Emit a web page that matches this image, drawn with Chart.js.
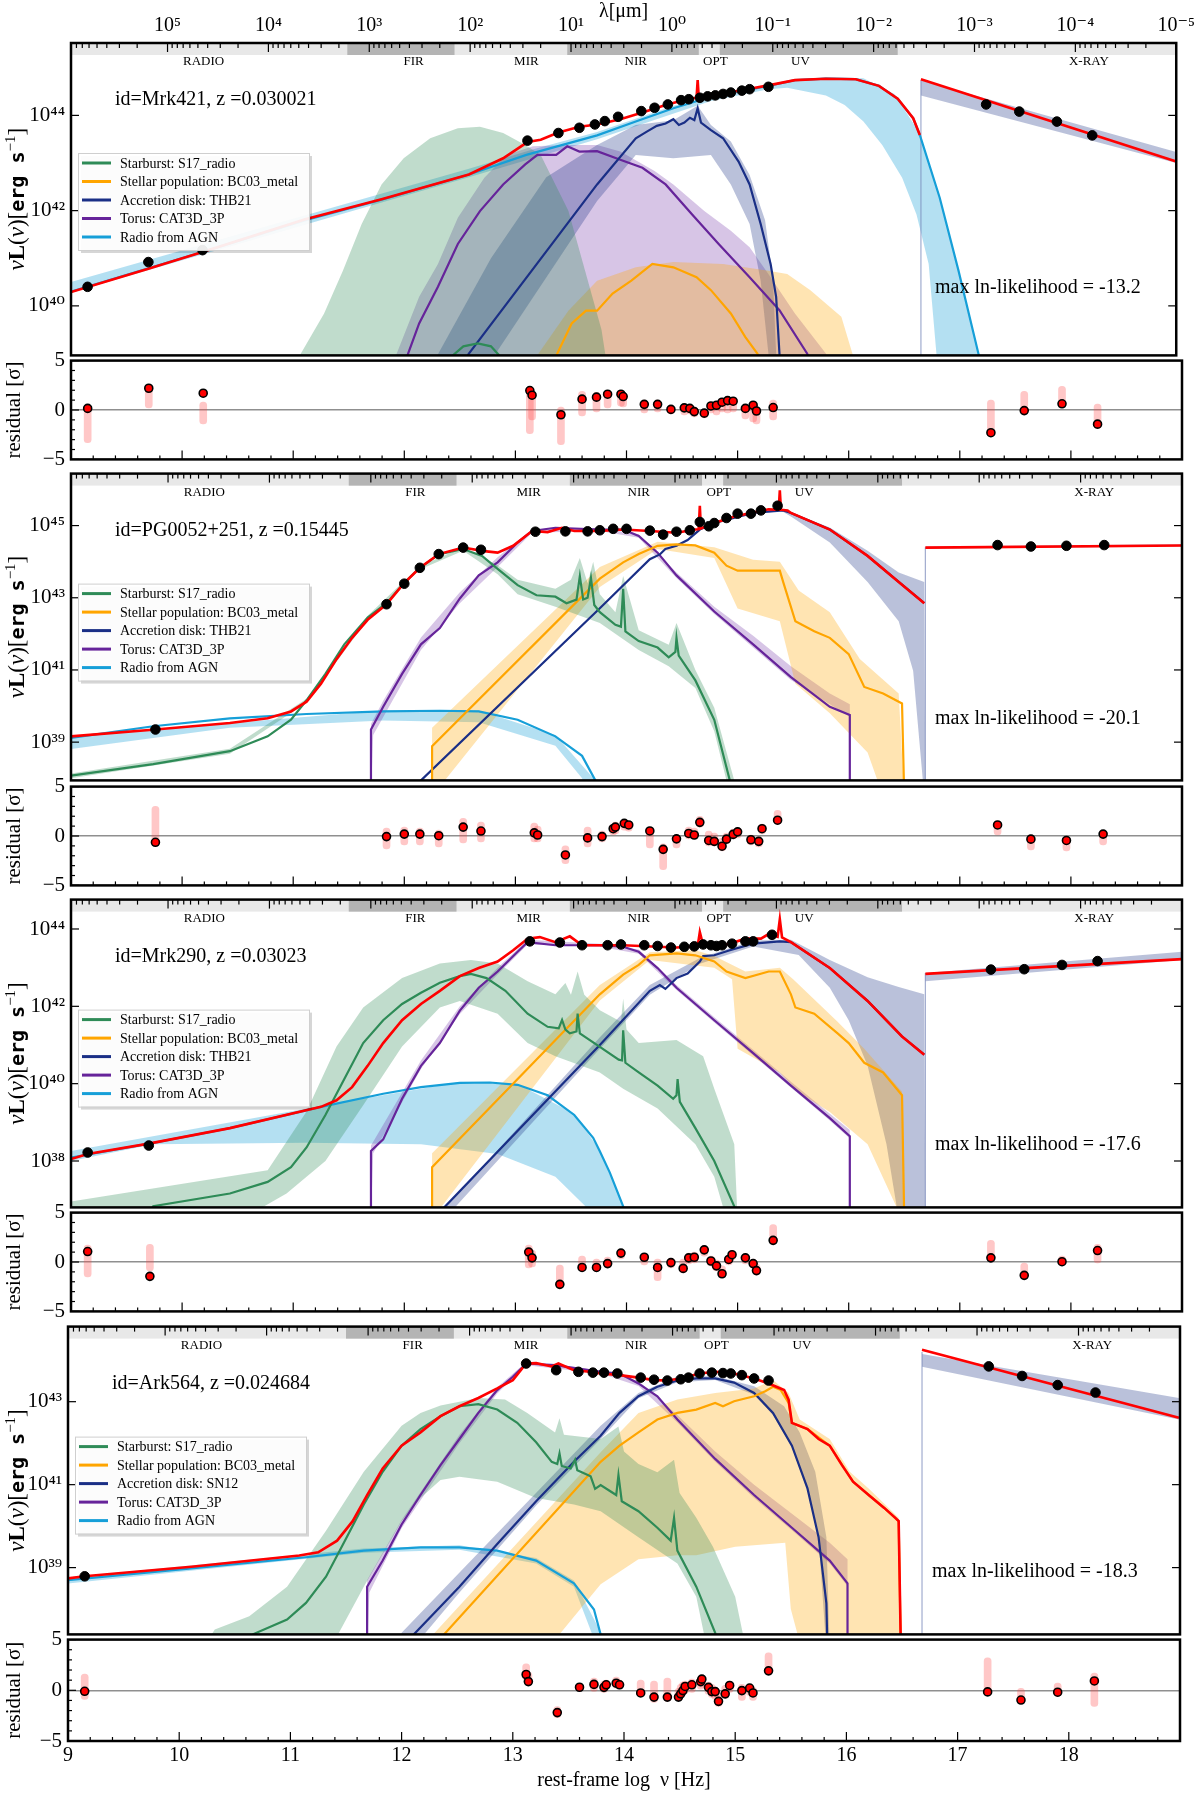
<!DOCTYPE html>
<html>
<head>
<meta charset="utf-8">
<script src="https://cdn.jsdelivr.net/npm/chart.js@4.4.1/dist/chart.umd.min.js"></script>
<style>
  body { margin: 0; background: #fff; width: 1200px; height: 1793px; position: relative; overflow: hidden; }
  canvas { position: absolute; left: 0; }
</style>
</head>
<body>
<canvas id="m0"></canvas><canvas id="r0"></canvas>
<canvas id="m1"></canvas><canvas id="r1"></canvas>
<canvas id="m2"></canvas><canvas id="r2"></canvas>
<canvas id="m3"></canvas><canvas id="r3"></canvas>
<script>
// ---- axis / label values ----
const xTicks = [9, 10, 11, 12, 13, 14, 15, 16, 17, 18];
const lamTicks = [5, 4, 3, 2, 1, 0, -1, -2, -3, -4, -5];
const yRanges = [[38.96, 45.52], [37.94, 46.44], [36.8, 44.76], [37.39, 44.81]];
const yTicks = [[40, 42, 44], [39, 41, 43, 45], [38, 40, 42, 44], [39, 41, 43]];
const darkBands = [[11.50, 12.47], [13.49, 14.68], [14.87, 16.48]];
const bandNames = ['RADIO', 'FIR', 'MIR', 'NIR', 'OPT', 'UV', 'X-RAY'];
const bandCenters = [10.2, 12.1, 13.12, 14.11, 14.83, 15.6, 18.21];
const objIds = ['id=Mrk421, z =0.030021', 'id=PG0052+251, z =0.15445', 'id=Mrk290, z =0.03023', 'id=Ark564, z =0.024684'];
const lnLikes = ['max ln-likelihood = -13.2', 'max ln-likelihood = -20.1', 'max ln-likelihood = -17.6', 'max ln-likelihood = -18.3'];
const compNames = ['Starburst: S17_radio', 'Stellar population: BC03_metal', 'Accretion disk: THB21', 'Torus: CAT3D_3P', 'Radio from AGN'];
const compNamesSN12 = ['Starburst: S17_radio', 'Stellar population: BC03_metal', 'Accretion disk: SN12', 'Torus: CAT3D_3P', 'Radio from AGN'];
// y title pieces: [text, style]
const yTitleParts = [['ν', 'italic'], ['L', 'bold'], ['(', ''], ['ν', 'italic'], [')', ''], ['[', ''], ['erg s', 'mono'], ['−1', 'sup'], [']', '']];

// ---- Mrk421 ----
const mrk421Total = [[9.0,40.29],[9.70,40.78],[10.19,41.13],[11.12,41.82],[11.81,42.24],[12.60,42.76],[12.91,43.10],[13.13,43.44],[13.25,43.49],[13.41,43.64],[13.60,43.76],[13.76,43.81],[13.97,43.92],[14.17,44.06],[14.38,44.22],[14.59,44.35],[14.66,44.37],[14.67,44.74],[14.68,44.37],[14.90,44.46],[15.14,44.56],[15.31,44.63],[15.55,44.74],[15.83,44.77],[16.10,44.76],[16.31,44.62],[16.48,44.35],[16.62,43.94],[16.68,43.59]];
const mrk421Xray = [[16.69,44.76],[19.0,43.03]];
const mrk421XrayUp = [[16.69,44.74],[19.0,43.23]];
const mrk421XrayLo = [[16.69,44.42],[19.0,43.0]];
const mrk421XrayEdge = [[16.69,44.74],[16.69,30]];
const mrk421Sb = [[12.40,38.6],[12.46,38.97],[12.55,39.15],[12.68,39.21],[12.80,39.15],[12.87,38.97],[12.93,38.6]];
const mrk421SbUp = [[10.9,38.0],[11.08,39.0],[11.29,39.84],[11.46,40.74],[11.63,41.72],[11.81,42.55],[12.01,43.10],[12.25,43.52],[12.50,43.73],[12.70,43.76],[12.91,43.63],[13.11,43.38],[13.25,43.17],[13.5,42.0],[13.8,39.5],[13.9,38.0]];
const mrk421SbLo = [[10.9,30],[13.9,30]];
const mrk421St = [[13.35,38.8],[13.40,39.0],[13.53,39.63],[13.66,39.9],[13.76,39.9],[13.90,40.26],[14.07,40.53],[14.26,40.88],[14.45,40.81],[14.66,40.6],[14.79,40.33],[14.97,39.84],[15.10,39.35],[15.21,39.0],[15.25,38.8]];
const mrk421StUp = [[13.2,38.9],[13.5,39.9],[13.76,40.53],[14.11,40.81],[14.45,40.92],[14.90,40.88],[15.31,40.74],[15.48,40.67],[15.69,40.33],[15.97,39.77],[16.07,39.0],[16.1,38.8]];
const mrk421StLo = [[13.2,30],[16.1,30]];
const mrk421Disk = [[12.55,38.8],[12.60,39.0],[13.76,42.55],[14.11,43.52],[14.21,43.66],[14.30,43.78],[14.38,43.83],[14.45,43.92],[14.50,43.80],[14.55,43.85],[14.60,43.95],[14.64,43.90],[14.67,44.15],[14.70,43.85],[14.79,43.69],[14.90,43.52],[15.04,43.03],[15.14,42.55],[15.24,41.72],[15.33,40.88],[15.38,40.19],[15.41,39.0],[15.42,38.5]];
const mrk421DiskUp = [[12.3,38.9],[12.8,41.0],[13.3,42.7],[13.76,43.38],[14.11,43.8],[14.45,43.9],[14.67,44.2],[14.79,43.8],[14.97,43.45],[15.14,42.75],[15.28,41.8],[15.35,40.6],[15.38,39.0],[15.4,38.5]];
const mrk421DiskLo = [[12.7,38.5],[13.76,42.2],[14.11,43.17],[14.45,43.1],[14.79,43.17],[14.97,42.55],[15.14,41.72],[15.24,40.53],[15.31,39.0],[15.33,38.5]];
const mrk421Torus = [[12.0,38.6],[12.05,39.0],[12.15,39.63],[12.32,40.40],[12.50,41.30],[12.70,41.99],[12.91,42.55],[13.11,42.97],[13.22,43.17],[13.39,43.17],[13.49,43.35],[13.60,43.24],[13.76,43.25],[13.97,43.07],[14.17,42.90],[14.38,42.55],[14.62,41.92],[14.86,41.30],[15.14,40.60],[15.41,39.91],[15.66,39.0],[15.7,38.8]];
const mrk421TorusUp = [[11.94,38.96],[12.15,40.19],[12.32,40.88],[12.50,41.85],[12.74,42.69],[12.94,43.17],[13.18,43.35],[13.49,43.38],[13.76,43.38],[13.97,43.24],[14.28,42.83],[14.45,42.55],[14.73,41.99],[14.97,41.58],[15.14,41.23],[15.31,40.67],[15.55,39.84],[15.83,39.0],[15.9,38.5]];
const mrk421TorusLo = [[11.9,30],[15.9,30]];
const mrk421Rad = [[9.0,40.3],[10.19,41.13],[11.12,41.8],[11.81,42.23],[12.6,42.76],[13.12,43.17],[13.76,43.58],[14.11,43.87],[14.45,44.15],[14.79,44.39],[15.31,44.62],[15.55,44.74],[15.83,44.77],[16.10,44.76],[16.31,44.62],[16.48,44.35],[16.62,43.94],[16.68,43.59],[16.86,42.27],[17.03,40.74],[17.21,39.0],[17.25,38.6]];
const mrk421RadUp = [[9.0,40.5],[12.6,42.88],[13.2,43.3],[13.76,43.65],[14.45,44.2],[15.31,44.66],[15.83,44.8],[16.17,44.78],[16.45,44.45],[16.68,43.62],[16.86,42.3],[17.03,40.77],[17.21,39.0],[17.25,38.6]];
const mrk421RadLo = [[9.0,40.28],[12.6,42.7],[13.76,43.5],[14.79,44.3],[15.31,44.55],[15.48,44.58],[15.83,44.42],[16.0,44.22],[16.17,43.87],[16.34,43.38],[16.52,42.69],[16.65,41.92],[16.76,40.88],[16.83,39.0],[16.85,38.6]];
const mrk421Data = [[9.15,40.40],[9.70,40.92],[10.19,41.17],[13.13,43.47],[13.41,43.63],[13.60,43.74],[13.74,43.81],[13.83,43.88],[13.95,43.97],[14.16,44.09],[14.28,44.16],[14.40,44.23],[14.52,44.32],[14.59,44.34],[14.69,44.37],[14.76,44.40],[14.83,44.42],[14.90,44.45],[14.97,44.48],[15.07,44.52],[15.14,44.55],[15.31,44.60],[17.28,44.23],[17.58,44.08],[17.92,43.87],[18.24,43.58]];
// residual rows: [log nu, best, spread low, spread high]
const mrk421Resid = [[9.15,0.16,-3.3,0.2],[9.70,2.2,0.2,2.2],[10.19,1.7,-1.4,0.8],[13.13,1.97,-2.4,2.0],[13.15,1.5,-1.0,1.5],[13.41,-0.48,-3.5,0.3],[13.60,1.1,-0.6,1.9],[13.73,1.3,-0.2,1.8],[13.83,1.6,0.2,1.9],[13.95,1.6,0.4,1.9],[13.97,1.36,0.3,1.6],[14.16,0.57,-0.3,1.0],[14.28,0.57,-0.2,1.0],[14.40,0.06,-0.4,0.4],[14.52,0.22,-0.5,0.6],[14.57,0.16,-0.4,0.5],[14.61,-0.16,-0.7,0.3],[14.70,-0.32,-0.8,0.1],[14.76,0.41,-0.3,0.8],[14.81,0.48,-0.5,0.8],[14.86,0.79,-0.2,1.0],[14.91,0.95,-0.3,1.1],[14.96,0.89,-0.2,1.0],[15.07,0.16,-0.9,0.3],[15.14,0.48,-1.2,0.6],[15.17,-0.1,-1.4,0.2],[15.32,0.25,-1.0,1.0],[17.28,-2.3,-2.4,1.0],[17.58,-0.06,0,1.9],[17.92,0.63,0.6,2.4],[18.24,-1.43,-1.9,0.6]];

// ---- PG0052+251 ----
const pg0052Total = [[9.0,39.16],[9.76,39.35],[10.43,39.53],[10.77,39.66],[10.98,39.85],[11.12,40.12],[11.25,40.62],[11.39,41.30],[11.53,41.89],[11.67,42.39],[11.84,42.82],[11.99,43.38],[12.14,43.83],[12.31,44.21],[12.53,44.39],[12.70,44.30],[12.84,44.25],[12.98,44.44],[13.15,44.85],[13.29,44.82],[13.42,44.94],[13.53,44.85],[13.76,44.85],[13.97,44.89],[14.21,44.85],[14.45,44.80],[14.62,44.89],[14.65,44.9],[14.66,45.55],[14.67,44.92],[14.79,45.07],[14.97,45.25],[15.14,45.36],[15.28,45.45],[15.37,45.44],[15.38,45.98],[15.39,45.44],[15.45,45.42],[15.48,45.35],[15.83,44.89],[16.17,44.16],[16.45,43.44],[16.68,42.85]];
const pg0052Xray = [[16.69,44.39],[19.0,44.45]];
const pg0052XrayUp = [[16.69,44.42],[19.0,44.48]];
const pg0052XrayLo = [[16.69,44.36],[19.0,44.42]];
const pg0052XrayEdge = [[16.69,44.4],[16.69,30]];
const pg0052Sb = [[9.0,38.07],[9.74,38.39],[10.43,38.75],[10.77,39.16],[10.98,39.62],[11.12,40.16],[11.29,40.89],[11.46,41.71],[11.67,42.45],[11.84,42.85],[11.99,43.38],[12.14,43.83],[12.31,44.2],[12.53,44.35],[12.70,44.16],[12.84,43.80],[13.02,43.35],[13.19,43.07],[13.36,43.03],[13.46,42.85],[13.55,42.95],[13.58,43.6],[13.61,42.95],[13.65,43.0],[13.68,43.55],[13.71,42.8],[13.76,42.6],[13.90,42.25],[13.95,42.2],[13.97,43.25],[13.99,42.07],[14.11,41.80],[14.28,41.62],[14.38,41.35],[14.44,41.5],[14.45,41.89],[14.47,41.4],[14.62,40.71],[14.79,39.62],[14.93,37.94],[14.95,37.5]];
const pg0052SbUp = [[9.0,38.13],[10.43,38.82],[11.12,40.2],[11.67,42.5],[12.14,43.88],[12.53,44.4],[12.84,43.9],[13.02,43.5],[13.36,43.25],[13.5,43.5],[13.58,44.1],[13.65,43.4],[13.70,44.0],[13.76,43.1],[13.9,42.6],[13.97,43.6],[14.11,42.1],[14.38,41.7],[14.45,42.3],[14.62,41.0],[14.79,39.95],[14.97,37.94],[15.0,37.5]];
const pg0052SbLo = [[9.0,38.0],[10.43,38.68],[11.12,40.1],[11.67,42.4],[12.14,43.78],[12.53,44.3],[12.84,43.65],[13.02,43.1],[13.36,42.75],[13.76,42.3],[14.11,41.55],[14.38,41.1],[14.62,40.5],[14.79,39.3],[14.9,37.94],[14.92,37.5]];
const pg0052St = [[12.25,37.5],[12.25,38.89],[13.76,43.53],[13.97,43.98],[14.11,44.21],[14.28,44.44],[14.45,44.48],[14.62,44.45],[14.79,44.25],[14.90,43.89],[15.0,43.75],[15.14,43.75],[15.38,43.75],[15.41,43.44],[15.52,42.35],[15.69,42.07],[15.83,41.89],[16.0,41.44],[16.14,40.53],[16.31,40.35],[16.48,40.07],[16.50,37.5]];
const pg0052StUp = [[12.25,37.5],[12.25,39.4],[13.76,43.85],[14.28,44.55],[14.79,44.4],[15.14,44.05],[15.38,44.0],[15.55,43.2],[15.83,42.6],[16.1,41.3],[16.45,40.35],[16.5,37.5]];
const pg0052StLo = [[12.25,37.5],[13.76,43.3],[14.28,44.35],[14.79,44.1],[15.0,42.7],[15.38,42.35],[15.52,40.62],[15.83,39.8],[16.17,38.71],[16.31,37.5]];
const pg0052Disk = [[12.10,37.5],[12.15,37.94],[13.76,42.71],[14.21,44.07],[14.30,44.2],[14.35,44.35],[14.45,44.44],[14.55,44.6],[14.66,44.89],[14.79,45.07],[15.14,45.35],[15.41,45.42],[15.48,45.35],[15.83,44.89],[16.17,44.16],[16.45,43.44],[16.68,42.85]];
const pg0052DiskUp = [[15.4,45.45],[15.48,45.37],[15.83,44.95],[16.17,44.3],[16.45,43.7],[16.68,43.44],[16.69,37.5]];
const pg0052DiskLo = [[15.4,45.4],[15.48,45.25],[15.83,44.53],[16.17,43.44],[16.45,42.35],[16.58,40.98],[16.68,37.5]];
const pg0052Torus = [[11.70,37.5],[11.70,39.35],[11.81,39.98],[11.98,40.89],[12.15,41.71],[12.32,42.16],[12.50,42.98],[12.67,43.62],[12.84,43.98],[13.02,44.53],[13.15,44.85],[13.36,44.94],[13.76,44.89],[13.97,44.89],[14.11,44.71],[14.28,44.25],[14.45,43.62],[14.79,42.62],[15.14,41.71],[15.48,40.80],[15.83,39.98],[16.01,39.75],[16.01,37.5]];
const pg0052TorusUp = [[11.70,37.5],[11.70,39.5],[11.81,40.15],[12.15,41.9],[12.50,43.15],[12.84,44.12],[13.15,44.9],[13.76,44.93],[14.11,44.76],[14.45,43.7],[14.79,42.75],[15.14,41.95],[15.48,41.1],[15.83,40.35],[16.01,40.05],[16.01,37.5]];
const pg0052TorusLo = [[11.70,37.5],[11.72,39.2],[12.15,41.55],[12.50,42.85],[12.84,43.85],[13.15,44.8],[13.76,44.85],[14.11,44.66],[14.45,43.55],[14.79,42.55],[15.14,41.62],[15.48,40.72],[16.01,39.7],[16.01,37.5]];
const pg0052Rad = [[9.0,39.12],[9.74,39.44],[10.43,39.66],[11.12,39.78],[11.81,39.85],[12.32,39.87],[12.67,39.85],[13.02,39.62],[13.36,39.16],[13.6,38.62],[13.72,37.94],[13.75,37.5]];
const pg0052RadUp = [[9.0,39.16],[11.81,39.88],[12.67,39.88],[13.36,39.2],[13.72,37.94],[13.75,37.5]];
const pg0052RadLo = [[9.0,38.81],[10.43,39.4],[11.81,39.6],[12.67,39.55],[13.36,38.9],[13.6,38.0],[13.65,37.5]];
const pg0052Data = [[9.76,39.35],[11.84,42.82],[12.0,43.39],[12.14,43.83],[12.31,44.21],[12.53,44.39],[12.69,44.33],[13.18,44.83],[13.45,44.84],[13.65,44.84],[13.76,44.87],[13.88,44.91],[14.0,44.91],[14.21,44.86],[14.33,44.75],[14.45,44.83],[14.57,44.87],[14.66,45.10],[14.74,44.98],[14.79,45.07],[14.90,45.21],[15.0,45.33],[15.12,45.33],[15.21,45.42],[15.36,45.55],[17.34,44.46],[17.64,44.42],[17.96,44.44],[18.30,44.46]];
const pg0052Resid = [[9.76,-0.64,-0.6,3.0],[11.84,-0.06,-1.3,0.8],[12.0,0.19,-0.9,0.9],[12.14,0.19,-0.9,0.8],[12.31,0.03,-1.1,0.6],[12.53,0.9,-0.7,1.8],[12.69,0.5,-0.6,1.4],[13.17,0.32,-0.6,1.3],[13.2,0.1,-0.6,1.0],[13.45,-1.92,-2.8,-1.0],[13.65,-0.19,-1.1,0.9],[13.78,-0.06,-0.6,0.5],[13.88,0.74,0.1,1.2],[13.90,0.9,0.2,1.4],[13.98,1.28,0.6,1.6],[14.02,1.12,0.5,1.4],[14.21,0.51,-1.2,0.9],[14.33,-1.35,-3.4,-0.8],[14.45,-0.29,-1.2,0.0],[14.56,0.26,-0.3,0.9],[14.61,0.1,-0.3,0.8],[14.66,1.38,0.9,2.0],[14.74,-0.45,-1.0,0.5],[14.79,-0.54,-1.0,0.3],[14.86,-1.03,-1.5,-0.2],[14.90,-0.32,-0.8,0.3],[14.96,0.16,-0.3,0.7],[15.0,0.42,-0.2,0.8],[15.12,-0.38,-0.9,0.1],[15.19,-0.54,-1.1,0.0],[15.22,0.74,0.2,1.2],[15.36,1.6,1.2,2.6],[17.34,1.12,0.1,1.5],[17.64,-0.32,-1.4,0.1],[17.96,-0.45,-1.5,0.0],[18.29,0.19,-0.9,0.4]];

// ---- Mrk290 ----
const mrk290Total = [[9.0,38.05],[9.15,38.18],[9.70,38.45],[10.43,38.85],[11.25,39.40],[11.39,39.57],[11.53,39.91],[11.67,40.46],[11.81,41.05],[11.98,41.64],[12.15,42.06],[12.32,42.40],[12.50,42.78],[12.67,42.99],[12.84,43.16],[12.98,43.45],[13.11,43.75],[13.22,43.79],[13.36,43.66],[13.49,43.81],[13.60,43.58],[13.76,43.58],[13.97,43.58],[14.28,43.54],[14.45,43.52],[14.64,43.55],[14.66,43.92],[14.69,43.58],[14.79,43.54],[14.93,43.62],[15.07,43.75],[15.21,43.75],[15.28,43.87],[15.36,43.8],[15.38,44.25],[15.40,43.78],[15.48,43.66],[15.83,42.99],[16.17,42.14],[16.48,41.22],[16.68,40.75]];
const mrk290Xray = [[16.69,42.84],[19.0,43.22]];
const mrk290XrayUp = [[16.69,42.86],[19.0,43.41]];
const mrk290XrayLo = [[16.69,42.65],[19.0,43.2]];
const mrk290XrayEdge = [[16.69,42.86],[16.69,30]];
const mrk290Sb = [[9.7,36.6],[9.74,36.83],[10.43,37.16],[10.77,37.46],[10.98,37.84],[11.12,38.35],[11.29,39.19],[11.46,40.12],[11.63,41.05],[11.81,41.64],[11.98,42.06],[12.15,42.35],[12.32,42.61],[12.50,42.78],[12.60,42.84],[12.74,42.73],[12.91,42.40],[13.11,41.81],[13.29,41.47],[13.39,41.43],[13.42,41.65],[13.45,41.4],[13.49,41.30],[13.55,41.35],[13.56,41.81],[13.58,41.3],[13.76,40.95],[13.93,40.62],[13.96,40.6],[13.97,41.38],[13.99,40.54],[14.11,40.29],[14.28,39.95],[14.42,39.61],[14.45,39.7],[14.46,40.12],[14.48,39.53],[14.62,38.85],[14.79,38.0],[14.97,36.83],[15.0,36.5]];
const mrk290SbUp = [[9.0,36.95],[10.77,37.76],[11.12,39.28],[11.39,40.96],[11.63,41.97],[11.98,42.73],[12.32,43.11],[12.60,43.2],[12.84,43.11],[13.11,42.65],[13.36,42.31],[13.45,42.6],[13.5,42.3],[13.56,42.9],[13.62,42.3],[13.76,41.9],[13.95,41.6],[13.97,42.2],[14.0,41.4],[14.11,41.05],[14.45,41.13],[14.69,40.71],[14.79,39.87],[14.97,38.43],[15.0,36.5]];
const mrk290SbLo = [[9.0,36.5],[10.6,36.6],[10.94,37.16],[11.29,38.0],[11.63,39.44],[11.98,40.96],[12.32,41.97],[12.5,42.14],[12.84,41.81],[13.11,41.05],[13.36,40.71],[13.76,40.29],[13.97,39.87],[14.28,39.36],[14.62,38.43],[14.79,37.59],[14.90,36.5]];
const mrk290St = [[12.25,36.5],[12.25,37.84],[13.76,42.31],[13.97,42.82],[14.11,43.07],[14.21,43.32],[14.45,43.37],[14.62,43.32],[14.79,43.16],[14.90,42.90],[15.07,42.73],[15.28,42.90],[15.38,42.90],[15.48,42.31],[15.52,41.97],[15.69,41.81],[15.9,41.30],[16.0,41.05],[16.14,40.54],[16.31,40.29],[16.48,39.70],[16.50,36.5]];
const mrk290StUp = [[12.25,36.5],[12.25,38.2],[13.76,42.55],[14.21,43.4],[14.62,43.45],[14.79,43.3],[15.07,42.9],[15.38,43.0],[15.5,42.7],[15.9,41.6],[16.14,40.9],[16.48,39.8],[16.5,36.5]];
const mrk290StLo = [[12.25,36.5],[13.76,42.15],[14.21,43.2],[14.79,43.0],[14.95,42.7],[15.0,40.9],[15.38,40.29],[15.55,39.78],[15.83,39.27],[16.17,38.43],[16.48,36.5]];
const mrk290Disk = [[12.33,36.5],[12.36,36.8],[13.76,41.0],[14.21,42.4],[14.30,42.55],[14.35,42.45],[14.45,42.73],[14.55,42.85],[14.66,43.16],[14.69,43.3],[14.79,43.32],[14.93,43.45],[15.14,43.62],[15.38,43.68],[15.48,43.66],[15.83,42.99],[16.17,42.14],[16.48,41.22],[16.68,40.75]];
const mrk290DiskUp = [[12.28,36.5],[13.76,41.2],[14.21,42.55],[14.66,43.25],[15.14,43.7],[15.48,43.72],[15.83,43.2],[16.17,42.75],[16.45,42.5],[16.68,42.31],[16.69,36.5]];
const mrk290DiskLo = [[12.36,36.5],[13.76,40.9],[14.21,42.3],[14.66,43.1],[15.14,43.55],[15.55,43.33],[15.83,42.48],[16.0,41.64],[16.17,40.46],[16.34,38.43],[16.45,36.5]];
const mrk290Torus = [[11.70,36.5],[11.70,38.26],[11.81,38.56],[11.98,39.61],[12.15,40.46],[12.32,41.05],[12.50,41.89],[12.67,42.48],[12.84,42.90],[13.02,43.41],[13.11,43.66],[13.36,43.58],[13.76,43.58],[13.97,43.54],[14.11,43.41],[14.28,42.99],[14.45,42.48],[14.79,41.64],[15.14,40.79],[15.48,39.95],[15.83,39.11],[16.01,38.64],[16.01,36.5]];
const mrk290TorusUp = [[11.70,36.5],[11.70,38.4],[12.15,40.6],[12.50,42.0],[12.84,43.0],[13.11,43.72],[13.76,43.62],[14.11,43.47],[14.45,42.55],[14.79,41.72],[15.14,40.88],[15.48,40.05],[15.83,39.22],[16.01,38.8],[16.01,36.5]];
const mrk290TorusLo = [[11.70,36.5],[11.72,38.2],[12.15,40.38],[12.50,41.8],[12.84,42.82],[13.11,43.6],[13.76,43.54],[14.11,43.36],[14.45,42.42],[14.79,41.58],[15.14,40.73],[15.48,39.9],[15.83,39.05],[16.01,38.58],[16.01,36.5]];
const mrk290Rad = [[9.0,38.09],[9.74,38.47],[10.43,38.85],[11.25,39.40],[11.81,39.74],[12.15,39.91],[12.50,40.02],[12.77,40.03],[13.02,39.97],[13.29,39.70],[13.53,39.19],[13.70,38.6],[13.76,38.25],[13.85,37.7],[13.97,36.83],[14.0,36.5]];
const mrk290RadUp = [[9.0,38.26],[11.25,39.42],[12.5,40.04],[13.02,39.99],[13.53,39.22],[13.76,38.27],[13.97,36.83],[14.0,36.5]];
const mrk290RadLo = [[9.0,38.0],[9.74,38.43],[11.12,38.47],[12.15,38.43],[12.84,38.18],[13.36,37.59],[13.63,36.83],[13.65,36.5]];
const mrk290Data = [[9.15,38.22],[9.70,38.40],[13.13,43.68],[13.40,43.65],[13.60,43.58],[13.83,43.58],[13.95,43.60],[14.16,43.58],[14.28,43.56],[14.40,43.52],[14.52,43.54],[14.61,43.55],[14.69,43.60],[14.76,43.58],[14.81,43.56],[14.86,43.58],[14.95,43.62],[15.07,43.68],[15.14,43.68],[15.31,43.85],[17.28,42.95],[17.58,42.96],[17.92,43.07],[18.24,43.17]];
const mrk290Resid = [[9.15,1.06,-1.5,1.7],[9.71,-1.45,-0.9,1.8],[13.12,1.0,-0.6,1.7],[13.15,0.42,-0.5,1.2],[13.40,-2.26,-2.6,-0.3],[13.60,-0.55,-0.8,0.6],[13.73,-0.55,-0.8,0.3],[13.83,-0.16,-0.6,0.5],[13.95,0.9,0.3,1.2],[14.16,0.48,-0.3,0.8],[14.28,-0.55,-1.9,0.3],[14.40,-0.06,-0.6,0.4],[14.51,-0.65,-1.1,0.3],[14.56,0.42,-0.2,0.9],[14.61,0.48,-0.1,1.0],[14.70,1.23,0.6,1.5],[14.76,0.1,-0.4,0.6],[14.81,-0.39,-0.9,0.2],[14.86,-1.19,-1.5,-0.4],[14.92,0.26,-0.3,0.7],[14.95,0.74,0.2,1.0],[15.07,0.42,-0.2,0.7],[15.14,-0.16,-0.6,0.3],[15.17,-0.87,-1.3,-0.2],[15.32,2.19,2.2,3.8],[17.28,0.42,0.3,2.2],[17.58,-1.35,-1.6,-0.1],[17.92,0.03,-0.3,0.6],[18.24,1.16,-0.1,1.8]];

// ---- Ark564 ----
const ark564Total = [[9.0,38.74],[9.15,38.79],[10.11,39.02],[11.08,39.29],[11.25,39.37],[11.42,39.65],[11.56,40.12],[11.69,40.75],[11.83,41.39],[12.0,41.94],[12.17,42.26],[12.35,42.65],[12.52,42.89],[12.69,43.09],[12.86,43.32],[13.0,43.52],[13.12,43.92],[13.21,43.93],[13.35,43.85],[13.41,43.92],[13.55,43.76],[13.69,43.72],[13.79,43.68],[13.96,43.64],[14.13,43.58],[14.27,43.52],[14.39,43.51],[14.51,43.56],[14.68,43.68],[14.82,43.72],[14.99,43.68],[15.17,43.56],[15.30,43.44],[15.37,43.36],[15.44,43.28],[15.48,43.05],[15.51,42.49],[15.65,42.34],[15.75,42.10],[15.85,41.94],[15.96,41.47],[16.06,41.07],[16.2,40.75],[16.34,40.44],[16.44,40.20],[16.47,40.12],[16.49,37.0]];
const ark564Xray = [[16.68,44.25],[18.99,42.61]];
const ark564XrayUp = [[16.68,44.15],[18.99,43.09]];
const ark564XrayLo = [[16.68,43.84],[18.99,42.57]];
const ark564XrayEdge = [[16.68,44.2],[16.68,30]];
const ark564Sb = [[10.66,37.39],[10.97,37.75],[11.14,38.15],[11.32,38.78],[11.49,39.65],[11.66,40.52],[11.83,41.31],[12.0,41.94],[12.17,42.34],[12.35,42.65],[12.52,42.89],[12.69,42.94],[12.86,42.81],[13.04,42.49],[13.21,42.02],[13.35,41.55],[13.4,41.5],[13.42,41.75],[13.44,41.45],[13.52,41.39],[13.56,41.6],[13.58,41.35],[13.7,41.2],[13.74,40.9],[13.79,40.99],[13.93,40.75],[13.95,41.23],[13.98,40.6],[14.13,40.36],[14.30,39.96],[14.42,39.65],[14.45,40.2],[14.48,39.41],[14.65,38.54],[14.82,37.43],[14.85,37.0]];
const ark564SbUp = [[10.2,37.0],[10.32,37.51],[10.63,37.83],[10.97,38.54],[11.32,39.89],[11.66,41.31],[12.0,42.42],[12.17,42.73],[12.35,42.91],[12.69,43.09],[12.93,43.05],[13.13,42.73],[13.38,42.26],[13.42,42.6],[13.46,42.2],[13.79,42.1],[13.95,42.4],[14.0,41.8],[14.13,41.5],[14.3,41.3],[14.45,41.6],[14.5,40.8],[14.65,40.2],[14.8,39.5],[15.0,38.3],[15.1,37.0]];
const ark564SbLo = [[11.35,37.0],[11.66,38.54],[12.0,40.12],[12.17,40.68],[12.35,41.11],[12.52,41.19],[12.86,41.07],[13.21,40.68],[13.55,40.52],[13.79,40.36],[14.13,39.73],[14.48,39.1],[14.65,38.3],[14.75,37.0]];
const ark564St = [[12.25,37.0],[13.79,41.55],[13.96,41.94],[14.13,42.26],[14.30,42.57],[14.48,42.73],[14.65,42.81],[14.82,42.97],[14.89,42.89],[14.99,43.01],[15.17,43.13],[15.27,43.25],[15.34,43.36],[15.41,43.28],[15.48,42.97],[15.51,42.49],[15.65,42.34],[15.85,41.94],[16.06,41.07],[16.34,40.44],[16.47,40.12],[16.49,37.0]];
const ark564StUp = [[12.15,37.0],[13.79,41.78],[14.13,42.73],[14.48,43.05],[14.82,43.21],[15.17,43.32],[15.34,43.52],[15.48,43.21],[15.58,42.57],[15.85,42.10],[16.03,41.31],[16.2,40.91],[16.47,40.2],[16.5,37.0]];
const ark564StLo = [[13.3,37.0],[13.79,38.6],[14.13,39.2],[14.48,39.3],[14.65,39.3],[15.0,39.5],[15.45,39.6],[15.5,38.0],[15.6,37.0]];
const ark564Disk = [[12.05,37.0],[12.11,37.39],[12.52,38.54],[12.86,39.57],[13.21,40.6],[13.55,41.55],[13.79,42.18],[13.96,42.73],[14.13,43.13],[14.30,43.36],[14.48,43.51],[14.65,43.56],[14.82,43.56],[14.99,43.46],[15.17,43.21],[15.34,42.73],[15.51,41.94],[15.65,40.91],[15.75,39.73],[15.82,38.14],[15.83,37.0]];
const ark564DiskUp = [[11.98,37.0],[12.0,37.43],[13.79,42.42],[14.13,43.21],[14.48,43.6],[14.82,43.62],[15.17,43.37],[15.44,42.89],[15.58,42.26],[15.72,41.31],[15.82,39.73],[15.85,37.0]];
const ark564DiskLo = [[12.08,37.0],[12.52,38.4],[13.21,40.5],[13.79,42.1],[14.13,43.08],[14.48,43.47],[14.82,43.52],[15.17,43.17],[15.34,42.68],[15.51,41.9],[15.65,40.85],[15.75,39.7],[15.82,37.0]];
const ark564Torus = [[11.69,37.0],[11.69,38.54],[11.83,39.17],[12.0,40.04],[12.17,40.75],[12.35,41.47],[12.52,42.10],[12.69,42.73],[12.86,43.28],[13.0,43.6],[13.12,43.92],[13.38,43.88],[13.79,43.72],[13.96,43.68],[14.13,43.44],[14.30,43.13],[14.48,42.57],[14.82,41.62],[15.17,40.75],[15.51,39.96],[15.85,39.17],[16.01,38.62],[16.01,37.0]];
const ark564TorusUp = [[11.69,37.0],[11.69,38.7],[12.0,40.15],[12.52,42.2],[12.86,43.35],[13.12,43.95],[13.79,43.76],[14.13,43.5],[14.48,42.68],[14.82,41.8],[15.17,41.0],[15.51,40.3],[15.85,39.6],[16.01,39.2],[16.01,37.0]];
const ark564TorusLo = [[11.69,37.0],[11.71,38.4],[12.0,39.95],[12.52,42.0],[12.86,43.2],[13.12,43.88],[13.79,43.68],[14.13,43.38],[14.48,42.5],[14.82,41.55],[15.17,40.68],[15.51,39.9],[15.85,39.1],[16.01,38.55],[16.01,37.0]];
const ark564Rad = [[9.0,38.7],[10.11,38.98],[11.14,39.25],[11.66,39.41],[12.17,39.49],[12.52,39.49],[12.86,39.41],[13.21,39.17],[13.55,38.62],[13.73,37.99],[13.79,37.39],[13.8,37.0]];
const ark564RadUp = [[9.0,38.76],[11.66,39.46],[12.52,39.54],[13.21,39.23],[13.55,38.69],[13.79,37.45],[13.81,37.0]];
const ark564RadLo = [[9.0,38.62],[11.66,39.36],[12.52,39.43],[13.21,39.1],[13.55,38.54],[13.77,37.0]];
const ark564Data = [[9.15,38.79],[13.12,43.92],[13.39,43.76],[13.59,43.72],[13.72,43.70],[13.82,43.70],[13.94,43.68],[14.15,43.58],[14.27,43.53],[14.39,43.51],[14.51,43.54],[14.58,43.58],[14.68,43.68],[14.79,43.70],[14.89,43.69],[14.96,43.68],[15.06,43.64],[15.17,43.56],[15.30,43.51],[17.28,43.85],[17.58,43.62],[17.90,43.40],[18.24,43.22]];
const ark564Resid = [[9.15,-0.1,-0.9,1.6],[13.12,1.56,1.0,2.6],[13.14,0.86,0.6,1.8],[13.40,-2.2,-2.7,-1.6],[13.60,0.3,-0.1,0.5],[13.73,0.58,-0.1,1.2],[13.82,0.29,-0.2,0.9],[13.84,0.54,0.0,1.0],[13.93,0.7,0.2,1.3],[13.96,0.54,0.1,1.0],[14.15,-0.26,-0.6,1.0],[14.27,-0.67,-1.2,0.9],[14.39,-0.67,-1.1,1.2],[14.49,-0.67,-1.0,0.2],[14.51,-0.35,-0.8,0.6],[14.53,-0.03,-0.5,0.8],[14.55,0.38,-0.3,0.9],[14.61,0.54,-0.2,1.1],[14.69,0.86,0.1,1.3],[14.70,1.1,0.3,1.5],[14.76,0.29,-0.4,0.8],[14.79,-0.13,-0.7,0.6],[14.82,-0.13,-0.9,0.3],[14.85,-1.09,-1.6,-0.3],[14.91,-0.35,-0.8,0.5],[14.95,0.48,-0.2,0.9],[15.06,-0.03,-1.0,0.6],[15.13,0.22,-0.5,0.6],[15.16,-0.26,-1.0,0.3],[15.30,1.92,1.6,3.7],[17.27,-0.16,-0.3,3.2],[17.57,-0.96,-1.3,0.2],[17.90,-0.19,-0.6,0.7],[18.23,0.92,-1.6,1.7]];

// ---- styling / layout ----
const FONT = "'Liberation Serif', 'DejaVu Serif', serif";
const MONO = "'DejaVu Sans Mono', 'Liberation Mono', monospace";
const compColors = ['#2e8b57', '#ffa500', '#1a2f86', '#66249a', '#169fd8'];
const bandColors = ['rgba(46,139,87,0.3)', 'rgba(255,165,0,0.3)', 'rgba(40,62,140,0.32)', 'rgba(110,45,165,0.28)', 'rgba(22,159,216,0.32)'];
const xrayBand = 'rgba(40,62,140,0.32)';
const layout = [
  { main: [43, 358], res: [358, 462], left: 71, right: 1182 },
  { main: [471, 783], res: [784, 888], left: 71, right: 1182 },
  { main: [897, 1210], res: [1210, 1314], left: 71, right: 1182 },
  { main: [1324, 1637], res: [1637, 1741], left: 68, right: 1180 }
];

const panels = [
  { total: mrk421Total, xray: mrk421Xray, xrayUp: mrk421XrayUp, xrayLo: mrk421XrayLo, xrayEdge: mrk421XrayEdge,
    comps: [[mrk421Sb, mrk421SbUp, mrk421SbLo], [mrk421St, mrk421StUp, mrk421StLo], [mrk421Disk, mrk421DiskUp, mrk421DiskLo], [mrk421Torus, mrk421TorusUp, mrk421TorusLo], [mrk421Rad, mrk421RadUp, mrk421RadLo]],
    data: mrk421Data, resid: mrk421Resid, names: compNames },
  { total: pg0052Total, xray: pg0052Xray, xrayUp: pg0052XrayUp, xrayLo: pg0052XrayLo, xrayEdge: pg0052XrayEdge,
    comps: [[pg0052Sb, pg0052SbUp, pg0052SbLo], [pg0052St, pg0052StUp, pg0052StLo], [pg0052Disk, pg0052DiskUp, pg0052DiskLo], [pg0052Torus, pg0052TorusUp, pg0052TorusLo], [pg0052Rad, pg0052RadUp, pg0052RadLo]],
    data: pg0052Data, resid: pg0052Resid, names: compNames },
  { total: mrk290Total, xray: mrk290Xray, xrayUp: mrk290XrayUp, xrayLo: mrk290XrayLo, xrayEdge: mrk290XrayEdge,
    comps: [[mrk290Sb, mrk290SbUp, mrk290SbLo], [mrk290St, mrk290StUp, mrk290StLo], [mrk290Disk, mrk290DiskUp, mrk290DiskLo], [mrk290Torus, mrk290TorusUp, mrk290TorusLo], [mrk290Rad, mrk290RadUp, mrk290RadLo]],
    data: mrk290Data, resid: mrk290Resid, names: compNames },
  { total: ark564Total, xray: ark564Xray, xrayUp: ark564XrayUp, xrayLo: ark564XrayLo, xrayEdge: ark564XrayEdge,
    comps: [[ark564Sb, ark564SbUp, ark564SbLo], [ark564St, ark564StUp, ark564StLo], [ark564Disk, ark564DiskUp, ark564DiskLo], [ark564Torus, ark564TorusUp, ark564TorusLo], [ark564Rad, ark564RadUp, ark564RadLo]],
    data: ark564Data, resid: ark564Resid, names: compNamesSN12 }
];

Chart.defaults.font.family = FONT;
Chart.defaults.color = '#000';

const xy = a => a.map(p => ({ x: p[0], y: p[1] }));
const poly = (up, lo) => xy(up.concat(lo.slice().reverse()));
const SUP = { '0': '⁰', '1': '¹', '2': '²', '3': '³', '4': '⁴', '5': '⁵', '6': '⁶', '7': '⁷', '8': '⁸', '9': '⁹', '-': '⁻' };
const sup = n => String(n).split('').map(c => SUP[c] || c).join('');

function bandSet(pts, color) {
  return { type: 'line', data: pts, fill: 'shape', backgroundColor: color, borderColor: 'rgba(0,0,0,0)', borderWidth: 0, pointRadius: 0, order: 6 };
}
function lineSet(d, color, width, order) {
  return { type: 'line', data: xy(d), borderColor: color, borderWidth: width, pointRadius: 0, fill: false, order: order };
}

// rotated y title with mixed styles, centred on the plot area
function drawYTitle(ctx, a) {
  const fontFor = s => s === 'italic' ? 'italic 23px ' + FONT : s === 'bold' ? 'bold 23px ' + FONT :
    s === 'mono' ? 'bold 20px ' + MONO : s === 'sup' ? '15px ' + FONT : '23px ' + FONT;
  let total = 0;
  yTitleParts.forEach(p => { ctx.font = fontFor(p[1]); total += ctx.measureText(p[0]).width; });
  ctx.save();
  ctx.translate(16, (a.top + a.bottom) / 2);
  ctx.rotate(-Math.PI / 2);
  ctx.textBaseline = 'alphabetic';
  ctx.textAlign = 'left';
  ctx.fillStyle = '#000';
  let x = -total / 2;
  yTitleParts.forEach(p => {
    ctx.font = fontFor(p[1]);
    ctx.fillText(p[0], x, p[1] === 'sup' ? -1 : 8);
    x += ctx.measureText(p[0]).width;
  });
  ctx.restore();
}

function decorPlugin(kind, i) {
  const P = panels[i];
  return {
    id: 'decor',
    beforeDatasetsDraw(chart) {
      if (kind !== 'main') return;
      const { ctx, chartArea: a } = chart;
      const x = chart.scales.x;
      ctx.save();
      ctx.fillStyle = '#e8e8e8';
      ctx.fillRect(a.left, a.top, a.width, 12);
      ctx.fillStyle = '#b4b4b4';
      darkBands.forEach(b => {
        const x1 = x.getPixelForValue(b[0]);
        ctx.fillRect(x1, a.top, x.getPixelForValue(b[1]) - x1, 12);
      });
      ctx.fillStyle = '#000';
      ctx.font = '13px ' + FONT;
      ctx.textAlign = 'center';
      ctx.textBaseline = 'middle';
      bandNames.forEach((n, k) => ctx.fillText(n, x.getPixelForValue(bandCenters[k]), a.top + 19));
      ctx.restore();
    },
    afterDatasetsDraw(chart) {
      const { ctx, chartArea: a } = chart;
      const sx = chart.scales.x, sy = chart.scales.y;
      const seg = (x1, y1, x2, y2) => { ctx.beginPath(); ctx.moveTo(x1, y1); ctx.lineTo(x2, y2); ctx.stroke(); };
      ctx.save();
      ctx.strokeStyle = '#000';
      ctx.lineWidth = 1.2;
      if (kind === 'main') {
        // lambda ticks along the top edge
        const sl = chart.scales.lam;
        for (let d = -6; d <= 6; d++) {
          for (let k = 1; k <= 9; k++) {
            const v = d + Math.log10(k);
            if (v < sl.min || v > sl.max) continue;
            const px = sl.getPixelForValue(v);
            seg(px, a.top, px, a.top + (k === 1 ? 9 : 5));
          }
        }
        yTicks[i].forEach(v => {
          const py = sy.getPixelForValue(v);
          seg(a.left, py, a.left + 8, py);
          seg(a.right, py, a.right - 8, py);
        });
        // legend box
        const bx = a.left + 7, by = a.top + 110, bw = 231, bh = 97;
        ctx.fillStyle = 'rgba(0,0,0,0.16)';
        ctx.fillRect(bx + 3, by + 3, bw, bh);
        ctx.fillStyle = 'rgba(255,255,255,0.92)';
        ctx.fillRect(bx, by, bw, bh);
        ctx.strokeStyle = '#cfcfcf';
        ctx.lineWidth = 1;
        ctx.strokeRect(bx + 0.5, by + 0.5, bw, bh);
        ctx.font = '14px ' + FONT;
        ctx.textAlign = 'left';
        ctx.textBaseline = 'middle';
        P.names.forEach((n, k) => {
          const ly = by + 10 + k * 18.5;
          ctx.strokeStyle = compColors[k];
          ctx.lineWidth = 3;
          seg(bx + 4, ly, bx + 33, ly);
          ctx.fillStyle = '#000';
          ctx.fillText(n, bx + 42, ly + 1);
        });
        ctx.font = '20px ' + FONT;
        ctx.fillText(objIds[i], a.left + 44, a.top + 57);
        ctx.fillText(lnLikes[i], a.left + 864, a.top + 245);
        drawYTitle(ctx, a);
      } else {
        for (let k = 0; k <= 50; k++) {
          const px = sx.getPixelForValue(9 + k * 0.2);
          seg(px, a.bottom, px, a.bottom - (k % 5 === 0 ? 9 : 4));
        }
        for (let v = -5; v <= 5; v++) {
          const py = sy.getPixelForValue(v);
          seg(a.left, py, a.left + (v % 5 === 0 ? 8 : 4), py);
        }
      }
      ctx.strokeStyle = '#000';
      ctx.lineWidth = 2.5;
      ctx.strokeRect(a.left, a.top, a.width, a.height);
      ctx.restore();
    }
  };
}

function sizeCanvas(cv, top, h) {
  cv.width = 1200; cv.height = h;
  cv.style.width = '1200px'; cv.style.height = h + 'px';
  cv.style.top = top + 'px';
}

function makeMain(i) {
  const L = layout[i], P = panels[i];
  const isTop = i === 0;
  const topH = isTop ? L.main[0] : 0;
  const padT = isTop ? 0 : 16, padB = 16;
  const cv = document.getElementById('m' + i);
  sizeCanvas(cv, L.main[0] - padT - topH, topH + padT + (L.main[1] - L.main[0]) + padB);

  const datasets = [];
  P.comps.forEach((c, k) => {
    datasets.push(bandSet(poly(c[1], c[2]), bandColors[k]));
    datasets.push(lineSet(c[0], compColors[k], 2.2, 4));
  });
  datasets.push(bandSet(poly(P.xrayUp, P.xrayLo), xrayBand));
  datasets.push(lineSet(P.xrayEdge, 'rgba(120,135,185,0.7)', 1.2, 5));
  datasets.push(lineSet(P.total, '#ff0000', 2.6, 2));
  datasets.push(lineSet(P.xray, '#ff0000', 2.6, 2));
  datasets.push({ type: 'line', data: xy(P.data), showLine: false, pointRadius: 4.8, pointBackgroundColor: '#000', pointBorderColor: '#000', order: 1 });

  new Chart(cv, {
    type: 'line',
    data: { datasets },
    plugins: [decorPlugin('main', i)],
    options: {
      responsive: false, animation: false, devicePixelRatio: 1,
      layout: { padding: { top: padT, bottom: padB, left: 0, right: 1200 - L.right } },
      plugins: { legend: { display: false }, tooltip: { enabled: false } },
      scales: {
        x: { type: 'linear', min: 9, max: 19, display: false, offset: false },
        lam: {
          type: 'linear', axis: 'x', position: 'top', min: -5, max: 5.957, reverse: true, display: isTop, offset: false,
          afterFit: s => { s.height = topH; },
          afterBuildTicks: s => { s.ticks = lamTicks.map(v => ({ value: v })); },
          ticks: { callback: v => '10' + sup(v), font: { family: FONT, size: 20 }, padding: 5, maxRotation: 0, autoSkip: false },
          grid: { display: false, drawTicks: false }, border: { display: false },
          title: { display: true, text: 'λ[μm]', font: { family: FONT, size: 20 }, padding: { top: 0, bottom: 0 } }
        },
        y: {
          type: 'linear', position: 'left', min: yRanges[i][0], max: yRanges[i][1],
          afterFit: s => { s.width = L.left; },
          afterBuildTicks: s => { s.ticks = yTicks[i].map(v => ({ value: v })); },
          ticks: { callback: v => '10' + sup(v), font: { family: FONT, size: 21 }, padding: 6 },
          grid: { display: false, drawTicks: false }, border: { display: false },
          title: { display: false }
        }
      }
    }
  });
}

function makeRes(i) {
  const L = layout[i], P = panels[i];
  const last = i === 3;
  const padT = 16, padB = last ? 0 : 16, xH = last ? 52 : 0;
  const cv = document.getElementById('r' + i);
  sizeCanvas(cv, L.res[0] - padT, padT + (L.res[1] - L.res[0]) + padB + xH);

  const datasets = [
    { type: 'bar', data: P.resid.map(r => ({ x: r[0], y: [r[2], r[3]] })), backgroundColor: 'rgba(255,70,70,0.3)',
      barThickness: 7, borderRadius: 4, borderSkipped: false, grouped: false, order: 3 },
    { type: 'line', data: P.resid.map(r => ({ x: r[0], y: r[1] })), showLine: false, pointRadius: 4,
      pointBackgroundColor: '#ff0000', pointBorderColor: '#000', pointBorderWidth: 1.6, order: 1 }
  ];

  new Chart(cv, {
    type: 'line',
    data: { datasets },
    plugins: [decorPlugin('res', i)],
    options: {
      responsive: false, animation: false, devicePixelRatio: 1,
      layout: { padding: { top: padT, bottom: padB, left: 0, right: 1200 - L.right } },
      plugins: { legend: { display: false }, tooltip: { enabled: false } },
      scales: {
        x: {
          type: 'linear', position: 'bottom', min: 9, max: 19, display: last, offset: false,
          afterFit: s => { s.height = xH; },
          afterBuildTicks: s => { s.ticks = xTicks.map(v => ({ value: v })); },
          ticks: { font: { family: FONT, size: 20 }, padding: 3, maxRotation: 0, autoSkip: false },
          grid: { display: false, drawTicks: false }, border: { display: false },
          title: { display: true, text: 'rest-frame log  ν [Hz]', font: { family: FONT, size: 20 }, padding: { top: 0, bottom: 0 } }
        },
        y: {
          type: 'linear', position: 'left', min: -5, max: 5,
          afterFit: s => { s.width = L.left; },
          afterBuildTicks: s => { s.ticks = [-5, 0, 5].map(v => ({ value: v })); },
          ticks: { callback: v => (v < 0 ? '−' + Math.abs(v) : String(v)), font: { family: FONT, size: 21 }, padding: 6 },
          grid: { drawTicks: false, lineWidth: 1.6, color: c => (c.tick && c.tick.value === 0 ? '#8f8f8f' : 'rgba(0,0,0,0)') },
          border: { display: false },
          title: { display: true, text: 'residual [σ]', font: { family: FONT, size: 21 }, padding: { top: 2, bottom: 0 } }
        }
      }
    }
  });
}

for (let i = 0; i < 4; i++) { makeMain(i); makeRes(i); }
</script>
</body>
</html>
